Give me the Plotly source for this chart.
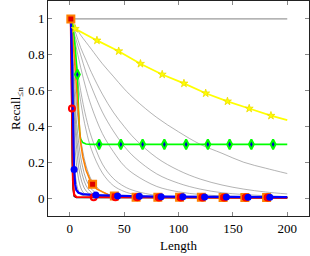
import plotly.graph_objects as go

# ---------------- data ----------------
X_TOP = [1, 200]
Y_TOP = [1, 1]

# fast-decaying gray curves (dark cluster near origin)
X_FAST = [1, 2, 3, 4, 5, 6, 8, 10, 12, 15, 20, 25, 30, 40, 60, 100, 200]
FAST_CURVES = [
    [1, .61, .37, .23, .14, .09, .04, .02, .015, .012, .01, .01, .009, .008, .006, .004, .002],
    [1, .72, .52, .38, .27, .2, .11, .06, .035, .02, .012, .01, .009, .008, .006, .004, .002],
    [1, .78, .61, .48, .38, .3, .18, .115, .075, .04, .018, .012, .01, .008, .006, .004, .002],
    [1, .82, .67, .55, .45, .37, .25, .17, .12, .07, .03, .016, .012, .009, .007, .004, .002],
    [1, .85, .72, .61, .52, .44, .32, .23, .17, .105, .05, .026, .016, .011, .008, .005, .003],
    [1, .88, .78, .69, .61, .54, .42, .33, .26, .18, .1, .06, .035, .015, .009, .006, .003],
]

# slower gray curves (light fan)
X_MED = [1, 5, 10, 15, 20, 30, 40, 50, 60, 80, 100, 120, 140, 160, 180, 200]
MED_CURVES = [
    [1, .76, .54, .38, .27, .14, .07, .037, .02, .008, .005, .004, .004, .003, .003, .003],
    [1, .8, .6, .45, .34, .19, .11, .065, .04, .015, .008, .006, .005, .004, .004, .003],
    [1, .87, .73, .61, .51, .36, .26, .18, .13, .065, .035, .02, .012, .008, .006, .005],
    [1, .9, .8, .7, .62, .48, .375, .29, .225, .135, .083, .05, .03, .02, .013, .008],
    [1, .93, .84, .77, .7, .58, .48, .4, .33, .225, .155, .106, .073, .05, .034, .023],
    [1, .96, .91, .87, .83, .75, .68, .61, .55, .45, .37, .3, .25, .2, .167, .137],
]

X_BLACK = [1, 1.6, 2.2, 3, 4, 6, 200]
Y_BLACK = [1, 0.5, 0.2, 0.05, 0.01, 0.003, 0.001]

X_YELLOW = [1, 3, 5, 25, 45, 65, 85, 105, 125, 145, 165, 185, 200]
Y_YELLOW = [1, 0.965, 0.945, 0.88, 0.82, 0.75, 0.69, 0.64, 0.585, 0.54, 0.5, 0.46, 0.435]
MX_YELLOW = [5, 25, 45, 65, 85, 105, 125, 145, 165, 185]
MY_YELLOW = [0.945, 0.88, 0.82, 0.75, 0.69, 0.64, 0.585, 0.54, 0.5, 0.46]

X_GREEN = [1, 3, 5, 7, 8, 9, 10, 12, 15, 20, 200]
Y_GREEN = [1, 0.96, 0.84, 0.69, 0.5, 0.37, 0.33, 0.31, 0.302, 0.3, 0.3]
MX_GREEN = [7, 27, 47, 67, 87, 107, 127, 147, 167, 187]
MY_GREEN = [0.69, 0.3, 0.3, 0.3, 0.3, 0.3, 0.3, 0.3, 0.3, 0.3]

X_ORANGE = [1, 2, 4, 6, 8, 9, 10, 12, 15, 18, 21, 25, 30, 35, 40, 50, 60, 100, 200]
Y_ORANGE = [1, 0.95, 0.8, 0.63, 0.45, 0.37, 0.31, 0.23, 0.155, 0.11, 0.077, 0.05,
            0.033, 0.02, 0.012, 0.007, 0.005, 0.004, 0.003]
MX_ORANGE = [1, 21, 41, 61, 81, 101, 121, 141, 161, 181]
MY_ORANGE = [1, 0.077, 0.011, 0.005, 0.004, 0.004, 0.004, 0.003, 0.003, 0.003]

X_RED = [1, 2, 3, 4, 6, 200]
Y_RED = [1, 0.5, 0.1, 0.02, 0.006, 0.003]
MX_RED = [2, 22, 42, 62, 82, 102, 122, 142, 162, 182]
MY_RED = [0.5, 0.004, 0.004, 0.004, 0.003, 0.003, 0.003, 0.003, 0.003, 0.003]

X_BLUE = [1, 2, 3, 4, 5, 6, 8, 12, 24, 44, 64, 84, 104, 124, 144, 164, 184, 200]
Y_BLUE = [1, 0.8, 0.45, 0.16, 0.075, 0.045, 0.03, 0.022, 0.017, 0.012, 0.01, 0.008,
          0.007, 0.006, 0.006, 0.005, 0.005, 0.005]
MX_BLUE = [4, 24, 44, 64, 84, 104, 124, 144, 164, 184]
MY_BLUE = [0.16, 0.017, 0.012, 0.01, 0.008, 0.007, 0.006, 0.006, 0.005, 0.005]

X_TICKS = [0, 50, 100, 150, 200]
Y_TICKS = [0, 0.2, 0.4, 0.6, 0.8, 1]

# ---------------- figure ----------------
fig = go.Figure()

fig.add_trace(go.Scatter(x=X_TOP, y=Y_TOP, mode="lines",
                         line=dict(color="#808080", width=1)))
for ys in MED_CURVES:
    fig.add_trace(go.Scatter(x=X_MED, y=ys, mode="lines", line_shape="spline",
                             line=dict(color="rgba(128,128,128,0.75)", width=0.8)))
for ys in FAST_CURVES:
    fig.add_trace(go.Scatter(x=X_FAST, y=ys, mode="lines", line_shape="spline",
                             line=dict(color="rgba(70,70,70,0.6)", width=0.8)))

fig.add_trace(go.Scatter(x=X_BLACK, y=Y_BLACK, mode="lines",
                         line=dict(color="black", width=1.2)))
fig.add_trace(go.Scatter(x=X_YELLOW, y=Y_YELLOW, mode="lines",
                         line=dict(color="#ffff00", width=1.8)))
fig.add_trace(go.Scatter(x=X_GREEN, y=Y_GREEN, mode="lines",
                         line=dict(color="#00ff00", width=1.6)))
fig.add_trace(go.Scatter(x=X_ORANGE, y=Y_ORANGE, mode="lines",
                         line=dict(color="#ff8000", width=1.6)))
fig.add_trace(go.Scatter(x=X_RED, y=Y_RED, mode="lines",
                         line=dict(color="#ff0000", width=2.2)))
fig.add_trace(go.Scatter(x=X_BLUE, y=Y_BLUE, mode="lines",
                         line=dict(color="#0000ff", width=2.2)))

fig.add_trace(go.Scatter(x=MX_YELLOW, y=MY_YELLOW, mode="markers",
                         marker=dict(symbol="star", size=6, color="#ffff00",
                                     line=dict(color="#eedd00", width=0.8))))
fig.add_trace(go.Scatter(x=MX_GREEN, y=MY_GREEN, mode="markers",
                         marker=dict(symbol="diamond-tall", size=7, color="#0000cc",
                                     line=dict(color="#00ff00", width=2))))
fig.add_trace(go.Scatter(x=MX_ORANGE, y=MY_ORANGE, mode="markers",
                         marker=dict(symbol="square", size=7, color="#dd0000",
                                     line=dict(color="#ff8000", width=2))))
fig.add_trace(go.Scatter(x=MX_RED, y=MY_RED, mode="markers",
                         marker=dict(symbol="circle-open", size=6, color="#ff0000",
                                     line=dict(color="#ff0000", width=2))))
fig.add_trace(go.Scatter(x=MX_BLUE, y=MY_BLUE, mode="markers",
                         marker=dict(symbol="circle", size=7, color="#0000ff",
                                     line=dict(width=0))))

font = dict(family="Liberation Serif", size=13, color="black")
axis_common = dict(showgrid=False, zeroline=False, showline=True, linecolor="#222",
                   linewidth=1, mirror="ticks", ticks="inside", ticklen=4,
                   tickcolor="#888", tickwidth=1, tickfont=font)

fig.update_layout(
    width=310, height=256,
    margin=dict(l=48, r=1, t=1, b=40),
    paper_bgcolor="white", plot_bgcolor="white",
    showlegend=False,
    font=font,
    xaxis=dict(range=[-20, 220], tickvals=X_TICKS,
               title=dict(text="Length", font=font, standoff=6), **axis_common),
    yaxis=dict(range=[-0.1, 1.1], tickvals=Y_TICKS,
               title=dict(text="Recall<sub>≤n</sub>", font=font, standoff=4),
               **axis_common),
)

fig.write_html("out.html", config={"displayModeBar": False},
               post_script="document.body.style.margin='0';document.body.style.overflow='hidden';")
